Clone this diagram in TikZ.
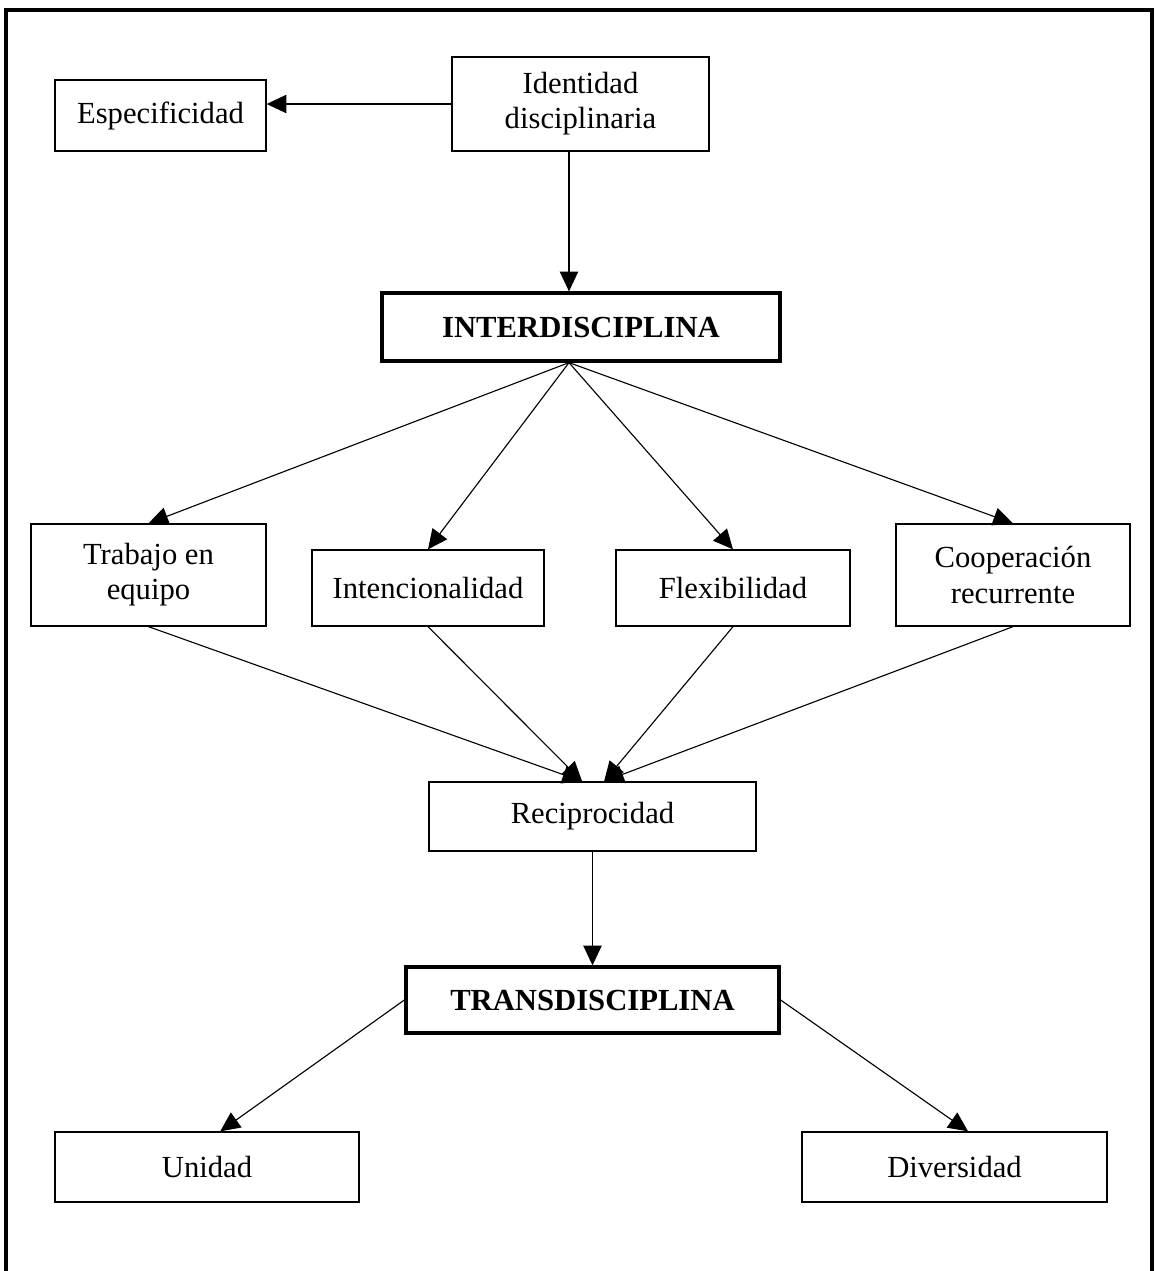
\documentclass[tikz,border=0pt]{standalone}
\usepackage{fontspec}
\setmainfont{Liberation Serif}
\usetikzlibrary{arrows.meta}
\begin{document}
\begin{tikzpicture}[x=0.025cm, y=-0.025cm, >={Triangle[length=14pt,width=13pt]},
        every node/.style={font=\fontsize{21.8}{25}\selectfont, align=center, inner sep=0pt},
        concept/.style={draw, line width=0.9pt, fill=white},
        keybox/.style={draw, line width=2.3pt, fill=white, font=\fontsize{21.8}{25}\selectfont\bfseries},
        link/.style={->, line width=0.8pt}]
        \useasboundingbox (0,0) rectangle (1156,1271);
        \draw[line width=2.5pt] (6,1275) -- (6,10) -- (1152,10) -- (1152,1275);

        \node[concept, minimum width=5.275cm, minimum height=1.775cm] (espec) at (160.5,115.5) {Especificidad};
        \node[concept, minimum width=6.425cm, minimum height=2.35cm] (ident) at (580.5,104) {Identidad\\disciplinaria};
        \node[keybox, minimum width=9.95cm, minimum height=1.7cm] (inter) at (581,327) {INTERDISCIPLINA};

        \node[concept, minimum width=5.875cm, minimum height=2.55cm] (trabajo) at (148.5,575) {Trabajo en\\equipo};
        \node[concept, minimum width=5.8cm, minimum height=1.9cm] (intenc) at (428,588) {Intencionalidad};
        \node[concept, minimum width=5.85cm, minimum height=1.9cm] (flex) at (733,588) {Flexibilidad};
        \node[concept, minimum width=5.85cm, minimum height=2.55cm] (coop) at (1013,575) {Cooperación\\recurrente};

        \node[concept, minimum width=8.175cm, minimum height=1.725cm] (recip) at (592.5,816.5) {Reciprocidad};
        \node[keybox, minimum width=9.325cm, minimum height=1.65cm] (trans) at (592.5,1000) {TRANSDISCIPLINA};
        \node[concept, minimum width=7.6cm, minimum height=1.75cm] (unidad) at (207,1167) {Unidad};
        \node[concept, minimum width=7.625cm, minimum height=1.75cm] (divers) at (954.5,1167) {Diversidad};

        \coordinate (intop) at ([xshift=-0.3cm]inter.north);
        \coordinate (hub) at ([xshift=-0.3cm]inter.south);
        \coordinate (recl) at ([xshift=-0.26cm]recip.north);
        \coordinate (recr) at ([xshift=0.29cm]recip.north);

        \draw[link] (ident.west) -- (ident.west -| espec.east);
        \draw[link] (ident.south -| intop) -- (intop);
        \draw[link] (hub) -- (trabajo.north);
        \draw[link] (hub) -- (intenc.north);
        \draw[link] (hub) -- (flex.north);
        \draw[link] (hub) -- (coop.north);
        \draw[link] (trabajo.south) -- (recl);
        \draw[link] (intenc.south) -- (recl);
        \draw[link] (flex.south) -- (recr);
        \draw[link] (coop.south) -- (recr);
        \draw[link] (recip.south) -- (trans.north);
        \draw[link] (trans.west) -- ([xshift=0.33cm]unidad.north);
        \draw[link] (trans.east) -- ([xshift=0.34cm]divers.north);
    \end{tikzpicture}
\end{document}
